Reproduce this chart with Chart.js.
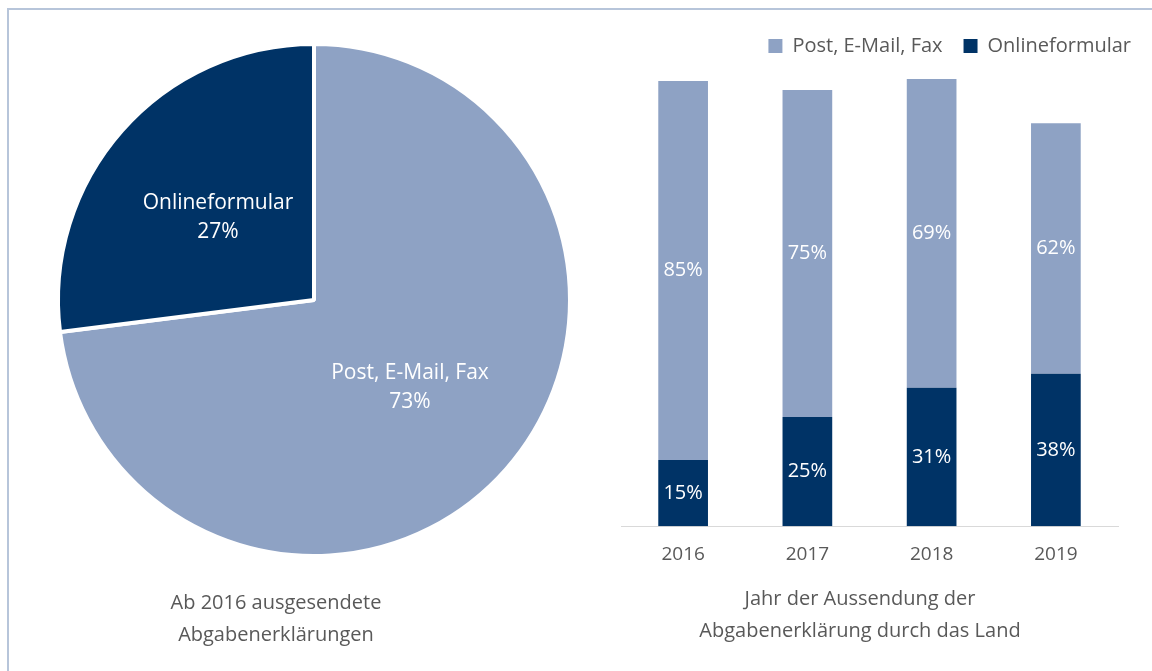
<!DOCTYPE html>
<html>
<head>
<meta charset="utf-8">
<script src="https://cdn.jsdelivr.net/npm/chart.js@4"></script>
<style>
  html, body { margin: 0; padding: 0; background: #fff; }
  body { width: 1152px; height: 671px; position: relative; overflow: hidden; font-family: "Open Sans", sans-serif; }
  #frame { position: absolute; left: 7px; top: 8px; width: 1200px; height: 700px; border-left: 2px solid #b7c5da; border-top: 2px solid #b7c5da; }
  .box { position: absolute; }
  .caption { position: absolute; color: #595959; font-size: 20px; line-height: 32px; text-align: center; white-space: nowrap; transform: translateX(-50%); }
</style>
</head>
<body>
<div id="frame"></div>
<div class="box" style="left:0;top:0;width:628px;height:671px"><canvas id="pieChart"></canvas></div>
<div class="box" style="left:600px;top:0;width:552px;height:671px"><canvas id="barChart"></canvas></div>
<div class="caption" style="left:276px;top:586px">Ab 2016 ausgesendete<br>Abgabenerklärungen</div>
<div class="caption" style="left:860px;top:582px">Jahr der Aussendung der<br>Abgabenerklärung durch das Land</div>
<script>
const pieLabels = ["Post, E-Mail, Fax", "Onlineformular"]
const pieValues = [73, 27]

const years = ["2016", "2017", "2018", "2019"]
const postValues = [378, 326, 308, 250]
const onlineValues = [66, 109, 138, 152]

const lightBlue = "#8ea2c4"
const darkBlue = "#003366"
const grey = "#595959"

Chart.defaults.font.family = "'Open Sans', sans-serif"
Chart.defaults.color = grey
Chart.defaults.animation = false

// white labels in the middle of every slice / bar segment
const segmentLabels = {
  id: "segmentLabels",
  afterDatasetsDraw(chart) {
    const ctx = chart.ctx
    const isPie = chart.config.type === "pie"
    ctx.save()
    ctx.fillStyle = "#fff"
    ctx.textAlign = "center"
    ctx.textBaseline = "middle"
    chart.data.datasets.forEach((ds, di) => {
      chart.getDatasetMeta(di).data.forEach((el, i) => {
        const p = el.getCenterPoint()
        if (isPie) {
          ctx.font = "21px 'Open Sans'"
          ctx.fillText(chart.data.labels[i], p.x, p.y - 12)
          ctx.fillText(ds.data[i] + "%", p.x, p.y + 17)
        } else {
          const total = chart.data.datasets.reduce((s, d) => s + d.data[i], 0)
          ctx.font = "20px 'Open Sans'"
          ctx.fillText(Math.round(ds.data[i] / total * 100) + "%", p.x, p.y)
        }
      })
    })
    ctx.restore()
  }
}

new Chart(document.getElementById("pieChart"), {
  type: "pie",
  data: {
    labels: pieLabels,
    datasets: [{ data: pieValues, backgroundColor: [lightBlue, darkBlue], borderColor: "#fff", borderWidth: 4 }]
  },
  options: {
    responsive: true,
    maintainAspectRatio: false,
    layout: { padding: { left: 56, right: 56, top: 42, bottom: 113 } },
    plugins: { legend: { display: false }, tooltip: { enabled: false } }
  },
  plugins: [segmentLabels]
})

new Chart(document.getElementById("barChart"), {
  type: "bar",
  data: {
    labels: years,
    datasets: [
      { label: "Post, E-Mail, Fax", data: postValues, backgroundColor: lightBlue, order: 2 },
      { label: "Onlineformular", data: onlineValues, backgroundColor: darkBlue, order: 1 }
    ]
  },
  options: {
    responsive: true,
    maintainAspectRatio: false,
    layout: { padding: { left: 21, right: 0, top: 15, bottom: 88 } },
    datasets: { bar: { categoryPercentage: 1, barPercentage: 0.4 } },
    scales: {
      x: {
        stacked: true,
        grid: { display: false, drawTicks: false },
        border: { display: true, color: "#d9d9d9", width: 1 },
        ticks: { color: grey, font: { size: 19 }, padding: 17 }
      },
      y: {
        stacked: true,
        position: "right",
        min: 0,
        max: 459,
        grid: { display: false, drawTicks: false },
        border: { display: false },
        ticks: { display: false },
        afterFit(scale) { scale.width = 34 }
      }
    },
    plugins: {
      legend: {
        position: "top",
        align: "end",
        reverse: true,
        labels: { boxWidth: 14, boxHeight: 14, padding: 21, color: grey, font: { size: 20 } }
      },
      tooltip: { enabled: false }
    }
  },
  plugins: [segmentLabels]
})
</script>
</body>
</html>
